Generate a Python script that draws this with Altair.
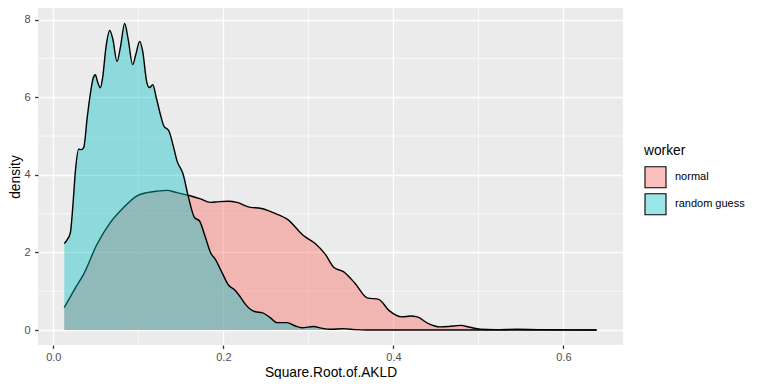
import altair as alt
import pandas as pd

# ---- data ----
rg_x = [0.0129, 0.016, 0.020, 0.023, 0.026, 0.0298, 0.033, 0.0357, 0.040, 0.0435,
        0.047, 0.0494, 0.052, 0.0553, 0.058, 0.062, 0.0663, 0.070, 0.0749, 0.079,
        0.0839, 0.088, 0.0933, 0.097, 0.1016, 0.105, 0.110, 0.113, 0.117, 0.121,
        0.126, 0.130, 0.136, 0.141, 0.1455, 0.1526, 0.159, 0.166, 0.172, 0.178,
        0.185, 0.1906, 0.198, 0.206, 0.214, 0.220, 0.226, 0.2376, 0.2455, 0.255,
        0.263, 0.275, 0.284, 0.2925, 0.306, 0.315, 0.326, 0.3416, 0.355, 0.369,
        0.45, 0.639]
rg_y = [2.23, 2.32, 2.50, 3.2, 4.1, 4.66, 4.65, 4.70, 5.5, 6.08,
        6.50, 6.58, 6.40, 6.24, 6.5, 7.3, 7.72, 7.50, 6.92, 7.3,
        7.90, 7.5, 6.84, 7.1, 7.44, 7.2, 6.38, 6.25, 6.32, 6.0,
        5.55, 5.26, 5.13, 4.75, 4.36, 4.02, 3.42, 2.90, 2.81, 2.45,
        1.99, 1.82, 1.50, 1.16, 1.02, 0.85, 0.66, 0.47, 0.45, 0.32,
        0.19, 0.19, 0.11, 0.06, 0.09, 0.05, 0.02, 0.035, 0.01, 0.0,
        0.0, 0.0]

nm_x = [0.0129, 0.025, 0.0357, 0.0514, 0.067, 0.0827, 0.0984, 0.110, 0.122, 0.1337,
        0.1455, 0.161, 0.173, 0.1847, 0.195, 0.206, 0.216, 0.2318, 0.2435, 0.255,
        0.265, 0.275, 0.2945, 0.308, 0.320, 0.33, 0.3416, 0.355, 0.369, 0.3827,
        0.395, 0.41, 0.420, 0.428, 0.44, 0.455, 0.465, 0.479, 0.490, 0.502,
        0.52, 0.5455, 0.57, 0.60, 0.639]
nm_y = [0.58, 1.05, 1.44, 2.21, 2.77, 3.16, 3.46, 3.54, 3.58, 3.60,
        3.54, 3.46, 3.38, 3.29, 3.31, 3.32, 3.29, 3.16, 3.14, 3.06,
        2.97, 2.86, 2.43, 2.23, 1.95, 1.61, 1.50, 1.20, 0.83, 0.79,
        0.50, 0.34, 0.36, 0.34, 0.18, 0.08, 0.09, 0.12, 0.07, 0.02,
        0.01, 0.02, 0.01, 0.005, 0.0]

groups = ["normal", "random guess"]
fills = ["rgba(248,118,109,0.45)", "rgba(0,191,196,0.4)"]

x_ticks = [0.0, 0.2, 0.4, 0.6]
x_minor = [0.1, 0.3, 0.5]
y_ticks = [0, 2, 4, 6, 8]
y_minor = [1, 3, 5, 7]

df = pd.concat([
    pd.DataFrame({"x": nm_x, "y": nm_y, "worker": groups[0]}),
    pd.DataFrame({"x": rg_x, "y": rg_y, "worker": groups[1]}),
])

xscale = alt.Scale(domain=[-0.018, 0.670], nice=False, zero=False)
yscale = alt.Scale(domain=[-0.386, 8.30], nice=False, zero=False)

xaxis = alt.Axis(values=x_ticks, format=".1f", title="Square.Root.of.AKLD")
yaxis = alt.Axis(values=y_ticks, format="d", title="density")

fill_enc = alt.Fill("worker:N", scale=alt.Scale(domain=groups, range=fills),
                    legend=alt.Legend(title="worker", orient="none",
                                      legendX=606, legendY=136))

minor_x = alt.Chart(pd.DataFrame({"x": x_minor})).mark_rule(
    color="white", strokeWidth=0.65).encode(x=alt.X("x:Q", scale=xscale, axis=xaxis))
minor_y = alt.Chart(pd.DataFrame({"y": y_minor})).mark_rule(
    color="white", strokeWidth=0.65).encode(y=alt.Y("y:Q", scale=yscale, axis=yaxis))

layers = [minor_x, minor_y]
for g in groups:
    base = alt.Chart(df).transform_filter(alt.datum.worker == g)
    area = base.mark_area(interpolate="monotone").encode(
        x=alt.X("x:Q", scale=xscale, axis=xaxis),
        y=alt.Y("y:Q", scale=yscale, axis=yaxis),
        fill=fill_enc,
    )
    line = base.mark_line(interpolate="monotone", color="black", strokeWidth=1.4).encode(
        x=alt.X("x:Q", scale=xscale, axis=xaxis),
        y=alt.Y("y:Q", scale=yscale, axis=yaxis),
    )
    layers += [area, line]

chart = alt.layer(*layers).properties(
    width=585, height=337,
    autosize=alt.AutoSizeParams(type="none"),
    padding={"left": 30, "top": 0, "right": 133, "bottom": 34},
).configure(
    font="Liberation Sans",
).configure_view(
    fill="#EBEBEB", stroke=None,
).configure_axis(
    domain=False,
    gridColor="white", gridWidth=1.3, gridOpacity=1,
    tickColor="#333333", tickSize=3.4, tickWidth=1.3,
    labelColor="#4D4D4D", labelFontSize=11,
    titleColor="black", titleFontSize=13.75, titleFontWeight="normal",
).configure_axisX(
    labelPadding=3.5, titlePadding=3,
).configure_axisY(
    labelPadding=4.5, titlePadding=1,
).configure_legend(
    titleFontSize=13.75, titleFontWeight="normal", titleColor="black",
    labelFontSize=11, labelColor="black",
    symbolType="square", symbolSize=441, symbolStrokeColor="black",
    symbolStrokeWidth=1.1, labelOffset=8, rowPadding=0, titlePadding=8,
    padding=0,
)

chart.save("out.html", embed_options={"renderer": "svg", "actions": False})
